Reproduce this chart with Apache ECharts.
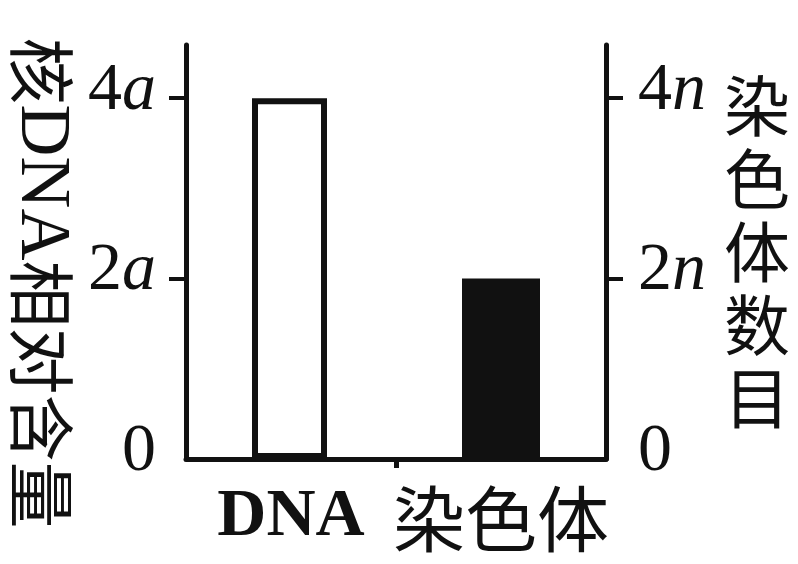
<!DOCTYPE html>
<html><head><meta charset="utf-8">
<script src="https://cdn.jsdelivr.net/npm/echarts@6/dist/echarts.min.js"></script>
<style>html,body{margin:0;padding:0;background:#fff}#c{width:798px;height:564px}</style>
</head><body><div id="c"></div>
<script>
const categories = ['DNA', '染色体'];
const dnaValues = [4, '-'];
const chromValues = ['-', 2];
const tickValues = [0, 2, 4];
const leftSuffix = 'a';
const rightSuffix = 'n';
const leftTitleParts = ['核', 'DNA', '相对含量'];
const rightTitle = '染色体数目';

const serif = 'Liberation Serif';
const cjk = 'Noto Sans CJK SC';
const ink = '#111';

function tickFmt(suffix) {
  return function (v) {
    if (v === 0) return '{n|0}';
    return '{n|' + v + '}{i|' + suffix + '}';
  };
}
const tickRich = {
  n: { fontFamily: serif, fontSize: 68, color: ink },
  i: { fontFamily: serif, fontSize: 68, fontStyle: 'italic', color: ink }
};

function yAxis(pos, suffix, name, gap, rot, pad, fs, lh, margin, rich) {
  return {
    type: 'value', position: pos, min: 0, max: 4.59,
    splitLine: { show: false },
    axisLine: { show: true, lineStyle: { color: ink, width: 5 } },
    axisTick: { show: true, length: 17, lineStyle: { color: ink, width: 4 }, customValues: [2, 4] },
    axisLabel: { customValues: tickValues, formatter: tickFmt(suffix), rich: tickRich,
      margin: margin, padding: [0, 0, 14, 0] },
    name: name, nameLocation: 'middle', nameGap: gap, nameRotate: rot,
    nameTextStyle: { fontFamily: cjk, fontSize: fs, color: ink, padding: pad, lineHeight: lh, rich: rich }
  };
}

const leftName = '{c|' + leftTitleParts[0] + '}{l|' + leftTitleParts[1] + '}{c|' + leftTitleParts[2] + '}';
const leftRich = {
  c: { fontFamily: cjk, fontSize: 67, color: ink, lineHeight: 70 },
  l: { fontFamily: serif, fontSize: 72, color: ink, lineHeight: 70 }
};

const chart = echarts.init(document.getElementById('c'));
chart.setOption({
  animation: false,
  backgroundColor: '#fff',
  grid: { left: 186, right: 192, top: 45, bottom: 105, containLabel: false, outerBoundsMode: 'none' },
  xAxis: [{
    type: 'category', data: categories,
    axisLine: { lineStyle: { color: ink, width: 5 } },
    axisTick: { show: false },
    axisLabel: {
      margin: 24, interval: 0,
      formatter: function (v) { return v === 'DNA' ? '{b|' + v + '}' : '{c|' + v + '}'; },
      rich: {
        b: { fontFamily: serif, fontSize: 68, fontWeight: 'bold', color: ink },
        c: { fontFamily: cjk, fontSize: 72, color: ink }
      }
    }
  }, {
    type: 'category', position: 'bottom', boundaryGap: false, data: ['', '', ''],
    axisLine: { show: false },
    axisLabel: { show: false },
    axisTick: { show: true, length: 9, lineStyle: { color: ink, width: 5 },
      interval: function (i) { return i === 1; } }
  }],
  yAxis: [
    yAxis('left', leftSuffix, leftName, 90, -90, [0, 0, 0, 62], 67, 70, 30, leftRich),
    yAxis('right', rightSuffix, rightTitle.split('').join('\n'), 118, 0, [10, 0, 0, 0], 66, 73, 32, undefined)
  ],
  series: [
    { type: 'bar', yAxisIndex: 0, data: dnaValues, barWidth: 75, barGap: '-100%',
      itemStyle: { color: '#fff', borderColor: ink, borderWidth: 6 } },
    { type: 'bar', yAxisIndex: 1, data: chromValues, barWidth: 78, barGap: '-100%',
      itemStyle: { color: ink } }
  ]
});
</script></body></html>
